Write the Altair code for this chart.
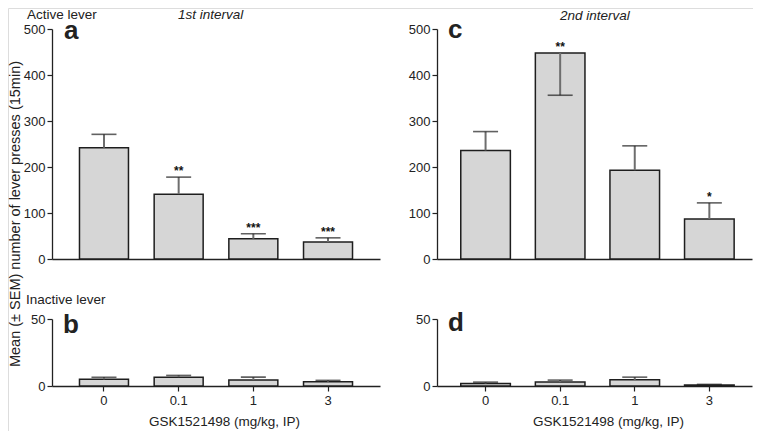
import altair as alt
import pandas as pd

# ---------------- data ----------------
cats = ["0", "0.1", "1", "3"]

a_mean = [242, 141, 44, 37]
a_err = [271, 178, 55, 46]
a_star = ["", "**", "***", "***"]

b_mean = [5.0, 6.6, 4.5, 3.2]
b_err = [6.5, 7.9, 6.6, 4.2]
b_star = ["", "", "", ""]

c_mean = [236, 448, 193, 87]
c_err = [277, 356, 246, 122]
c_star = ["", "**", "", "*"]

d_mean = [1.9, 2.9, 4.6, 0.8]
d_err = [2.9, 4.4, 6.6, 1.2]
d_star = ["", "", "", ""]

x_title = "GSK1521498 (mg/kg, IP)"
y_title = "Mean (± SEM) number of lever presses (15min)"

W, H = 745, 423
FONT = "Liberation Sans"
INK = "#222222"


def frame(mean, err, star):
    df = pd.DataFrame({"cat": cats, "mean": mean, "err": err, "star": star})
    df["top"] = df[["mean", "err"]].max(axis=1)
    return df


def panel(df, xrange, pin, pout, align, yrange, ydomain, yvalues,
          yoffset, xoffset, bottom, title_x):
    xscale = alt.Scale(domain=cats, range=xrange, paddingInner=pin,
                       paddingOuter=pout, align=align)
    yscale = alt.Scale(domain=ydomain, range=yrange, nice=False, zero=True)
    if bottom:
        xaxis = alt.Axis(orient="bottom", offset=xoffset, title=x_title,
                         labelAngle=0, tickSize=5, labelPadding=3,
                         labelFontSize=13, labelColor=INK, tickColor=INK,
                         domainColor=INK, domainWidth=1.3, tickWidth=1.2,
                         titleFontSize=13.5, titleFontWeight="normal",
                         titleColor=INK, titlePadding=7, titleX=title_x,
                         grid=False)
    else:
        xaxis = alt.Axis(orient="bottom", offset=xoffset, title=None,
                         labels=False, ticks=False, domainColor=INK,
                         domainWidth=1.3, grid=False)
    yaxis = alt.Axis(orient="left", offset=yoffset, values=yvalues,
                     title=None, tickSize=5, labelPadding=2,
                     labelFontSize=13, labelColor=INK, tickColor=INK,
                     domainColor=INK, domainWidth=1.3, tickWidth=1.2,
                     grid=False)
    X = alt.X("cat:N", sort=cats, scale=xscale, axis=xaxis, title=None)
    base = alt.Chart(df)
    bars = base.mark_bar(fill="#d6d6d6", stroke="#1e1e1e",
                         strokeWidth=1.5).encode(
        x=X, y=alt.Y("mean:Q", scale=yscale, axis=yaxis, title=None))
    stems = base.mark_rule(color="#6e6e6e", strokeWidth=2).encode(
        x=X, y=alt.Y("mean:Q", scale=yscale, axis=yaxis, title=None),
        y2="err:Q")
    caps = base.mark_tick(color="#1e1e1e", thickness=1.6, size=25).encode(
        x=X, y=alt.Y("err:Q", scale=yscale, axis=yaxis, title=None))
    stars = base.mark_text(font=FONT, fontSize=12, fontWeight="bold",
                           color="#111111", baseline="alphabetic",
                           dy=-2).encode(
        x=X, y=alt.Y("top:Q", scale=yscale, axis=yaxis, title=None),
        text="star:N")
    return alt.layer(bars, stems, caps, stars)


def label(txt, x, y, size=13.5, weight="normal", style="normal",
          align="left", angle=0, baseline="alphabetic"):
    return alt.Chart(pd.DataFrame({"t": [txt]})).mark_text(
        font=FONT, fontSize=size, fontWeight=weight, fontStyle=style,
        align=align, baseline=baseline, angle=angle, color=INK).encode(
        text="t:N", x=alt.value(x), y=alt.value(y))


LX, LP = [44, 372], (0.344, 0.368, 0.5)
RX, RP = [429, 744], (0.335, 0.279, 0.571)
TOP_Y, BOT_Y = [251, 21], [378, 311]

pa = panel(frame(a_mean, a_err, a_star), LX, *LP, TOP_Y, [0, 500],
           [0, 100, 200, 300, 400, 500], -44, 251 - H, False, 216)
pb = panel(frame(b_mean, b_err, b_star), LX, *LP, BOT_Y, [0, 50],
           [0, 50], -44, 378 - H, True, 216)
pc = panel(frame(c_mean, c_err, c_star), RX, *RP, TOP_Y, [0, 500],
           [0, 100, 200, 300, 400, 500], -429, 251 - H, False, 600)
pd_ = panel(frame(d_mean, d_err, d_star), RX, *RP, BOT_Y, [0, 50],
            [0, 50], -429, 378 - H, True, 600)

annotations = [
    label("Active lever", 19, 11),
    label("1st interval", 170, 11, style="italic"),
    label("2nd interval", 552, 12, style="italic"),
    label("Inactive lever", 18, 296),
    label("a", 56, 31, size=26, weight="bold"),
    label("b", 55, 325, size=26, weight="bold"),
    label("c", 440, 30, size=26, weight="bold"),
    label("d", 440, 323, size=26, weight="bold"),
    label(y_title, 8, 206, size=14.5, angle=270, align="center",
          baseline="middle"),
]

chart = alt.layer(pa, pb, pc, pd_, *annotations).resolve_scale(
    x="independent", y="independent"
).resolve_axis(
    x="independent", y="independent"
).properties(
    width=W, height=H,
    autosize=alt.AutoSizeParams(type="none"),
    padding=0,
).configure_view(stroke=None).configure(font=FONT, background="white")

chart.save("out.html", embed_options={"renderer": "svg", "actions": False})
